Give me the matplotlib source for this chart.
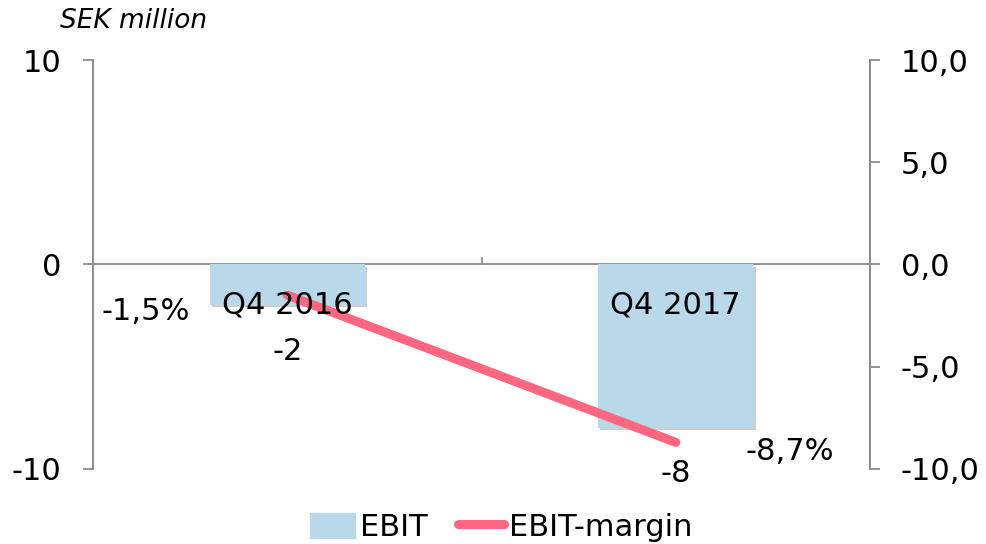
import matplotlib.pyplot as plt
import matplotlib.patheffects as pe
from matplotlib.ticker import FuncFormatter

# data
categories = ["Q4 2016", "Q4 2017"]
ebit = [-2, -8]
ebit_margin = [-1.5, -8.7]
ebit_labels = ["-2", "-8"]
margin_labels = ["-1,5%", "-8,7%"]

bar_color = "#B9D8EA"
line_color = "#FF6680"
axis_color = "#8C8C8C"
fs = 22

plt.rcParams["font.family"] = "DejaVu Sans"
plt.rcParams["font.size"] = fs
plt.rcParams["axes.unicode_minus"] = False

fig = plt.figure(figsize=(9.86, 5.44), dpi=100)
ax = fig.add_axes([0.0943, 0.1379, 0.7881, 0.7518])
ax2 = ax.twinx()

x = list(range(len(categories)))
bars = ax.bar(x, ebit, width=0.40, color=bar_color, zorder=2)
for b in bars:
    b.set_path_effects([pe.SimplePatchShadow(offset=(1.5, -1.5), alpha=0.25), pe.Normal()])

ax2.plot(x, ebit_margin, color=line_color, lw=6.5, solid_capstyle="round", zorder=3)

ax.set_xlim(-0.5, 1.5)
ax.set_ylim(-10, 10)
ax2.set_ylim(-10, 10)
ax.set_yticks([-10, 0, 10])
ax2.set_yticks([-10, -5, 0, 5, 10])
ax2.yaxis.set_major_formatter(FuncFormatter(lambda v, p: f"{v:.1f}".replace(".", ",")))
ax.set_xticks([])

for a in (ax, ax2):
    for s in ("top", "bottom"):
        a.spines[s].set_visible(False)
    a.spines["left"].set_color(axis_color)
    a.spines["right"].set_color(axis_color)
    a.spines["left"].set_linewidth(1.3)
    a.spines["right"].set_linewidth(1.3)
    a.tick_params(axis="y", length=7, width=1.3, color=axis_color, labelsize=fs)
ax.tick_params(axis="y", pad=16)
ax2.tick_params(axis="y", pad=15)

# zero line with category divider tick
ax.axhline(0, color=axis_color, lw=1.3, zorder=1)
ax.plot([0.5, 0.5], [0, 0.3], color=axis_color, lw=1.3, zorder=1)

# category labels just below zero line
for xi, cat in zip(x, categories):
    ax2.annotate(cat, (xi, 0), xytext=(0, -29), textcoords="offset points",
                 ha="center", va="center", fontsize=fs, zorder=5)

# bar value labels
for xi, v, lab in zip(x, ebit, ebit_labels):
    ax2.annotate(lab, (xi, v), xytext=(0, -33), textcoords="offset points",
                 ha="center", va="center", fontsize=fs, zorder=5)

# margin labels
offsets = [(-102, -11.5), (82, -6.5)]
for xi, v, lab, off in zip(x, ebit_margin, margin_labels, offsets):
    ax2.annotate(lab, (xi, v), xytext=off, textcoords="offset points",
                 ha="center", va="center", fontsize=fs, zorder=5)

fig.text(0.135, 0.962, "SEK million", style="italic", fontsize=19, ha="center", va="center")

leg_patch = plt.Rectangle((0, 0), 1, 1, color=bar_color)
handles = [leg_patch, ax2.lines[0]]
fig.legend(handles, ["EBIT", "EBIT-margin"], loc="center", bbox_to_anchor=(0.508, 0.031),
           ncol=2, frameon=False, fontsize=fs, handlelength=1.5, handleheight=0.9,
           handletextpad=0.15, columnspacing=1.0)

fig.savefig("out.png", dpi=100)
